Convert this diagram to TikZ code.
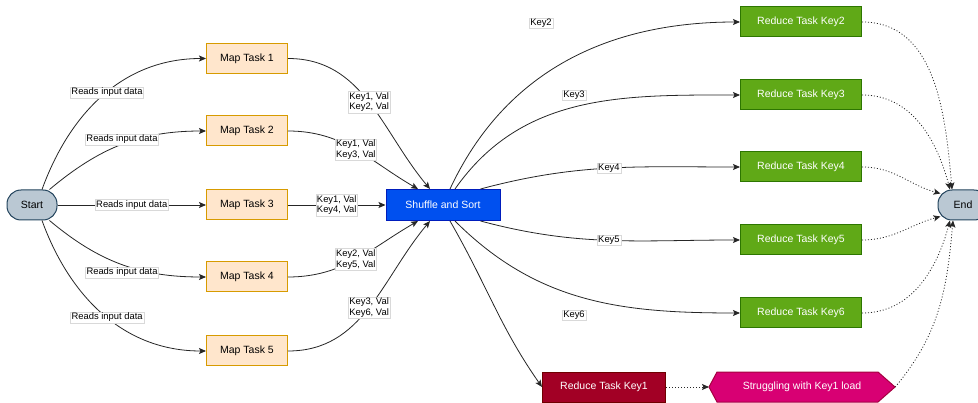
\documentclass[tikz,border=0pt]{standalone}
\usepackage{fontspec}
\setmainfont{Liberation Sans}
\usetikzlibrary{arrows.meta,calc}
\definecolor{termF}{HTML}{BAC8D3}
\definecolor{termD}{HTML}{23445D}
\definecolor{mapF}{HTML}{FFE6CC}
\definecolor{mapD}{HTML}{D79B00}
\definecolor{shufF}{HTML}{0050EF}
\definecolor{shufD}{HTML}{001DBC}
\definecolor{redF}{HTML}{60A917}
\definecolor{redD}{HTML}{2D7600}
\definecolor{rkF}{HTML}{A20025}
\definecolor{rkD}{HTML}{6F0000}
\definecolor{stF}{HTML}{D80073}
\definecolor{stD}{HTML}{A50040}
\begin{document}
\begin{tikzpicture}[x=1pt,y=1pt,
  every node/.style={font=\fontsize{10.5}{12.5}\selectfont},
  term/.style={draw=termD, fill=termF, line width=1pt, rounded corners=14pt, minimum width=50pt, minimum height=30pt},
  maptask/.style={draw=mapD, fill=mapF, line width=1pt, minimum width=81pt, minimum height=30pt},
  shufbox/.style={draw=shufD, fill=shufF, text=white, line width=1pt, minimum width=114pt, minimum height=31pt},
  redbox/.style={draw=redD, fill=redF, text=white, line width=1pt, minimum width=121pt, minimum height=30pt},
  rkbox/.style={draw=rkD, fill=rkF, text=white, line width=1pt, minimum width=123pt, minimum height=30pt},
  lbl/.style={fill=white, draw=black!15, line width=0.3pt, inner sep=1pt, font=\fontsize{9.4}{10.8}\selectfont, align=center},
  edge/.style={draw=black!85, line width=0.8pt, -{Stealth[length=7pt,width=6pt,inset=1.5pt]}},
  dotedge/.style={edge, dash pattern=on 1pt off 2pt}
]
\useasboundingbox (0,0) rectangle (978,402);

% nodes
\node[term] (Start) at (32,197) {Start};
\node[term] (End) at (963,197) {End};
\node[maptask] (M1) at (247,343.5) {Map Task 1};
\node[maptask] (M2) at (247,271) {Map Task 2};
\node[maptask] (M3) at (247,197) {Map Task 3};
\node[maptask] (M4) at (247,125) {Map Task 4};
\node[maptask] (M5) at (247,51) {Map Task 5};
\node[shufbox] (S) at (443,197) {Shuffle and Sort};
\node[redbox] (R2) at (801,380) {Reduce Task Key2};
\node[redbox] (R3) at (801,307) {Reduce Task Key3};
\node[redbox] (R4) at (801,235) {Reduce Task Key4};
\node[redbox] (R5) at (801,162) {Reduce Task Key5};
\node[redbox] (R6) at (801,89) {Reduce Task Key6};
\node[rkbox] (R1) at (604,15) {Reduce Task Key1};
\coordinate (sc) at (802,15);
\filldraw[draw=stD, fill=stF, line width=1pt]
  ([shift={(-93,0)}]sc) -- ([shift={(-85,15)}]sc) -- ([shift={(76,15)}]sc)
  -- ([shift={(93,0)}]sc) -- ([shift={(76,-15)}]sc) -- ([shift={(-85,-15)}]sc) -- cycle;
\node[text=white, minimum width=186pt, minimum height=30pt] (ST) at (sc) {Struggling with Key1 load};

% start -> maps
\draw[edge] ([xshift=10]Start.north) to[out=70,in=180] node[lbl, pos=0.52]{Reads input data} (M1.west);
\draw[edge] ([xshift=-8]Start.north east) to[out=40,in=180] node[lbl, yshift=5]{Reads input data} (M2.west);
\draw[edge] (Start.east) -- node[lbl]{Reads input data} (M3.west);
\draw[edge] ([xshift=-8]Start.south east) to[out=-40,in=180] node[lbl, yshift=-8]{Reads input data} (M4.west);
\draw[edge] ([xshift=10]Start.south) to[out=-70,in=180] node[lbl, pos=0.52]{Reads input data} (M5.west);

% maps -> shuffle
\draw[edge] (M1.east) to[out=0,in=130] node[lbl]{Key1, Val\\Key2, Val} ([xshift=-13]S.north);
\draw[edge] (M2.east) to[out=0,in=150] node[lbl]{Key1, Val\\Key3, Val} ([xshift=-25]S.north);
\draw[edge] (M3.east) -- node[lbl]{Key1, Val\\Key4, Val} (S.west);
\draw[edge] (M4.east) to[out=0,in=210] node[lbl]{Key2, Val\\Key5, Val} ([xshift=-25]S.south);
\draw[edge] (M5.east) to[out=0,in=230] node[lbl]{Key3, Val\\Key6, Val} ([xshift=-13]S.south);

% shuffle -> reducers
\draw[edge] ([xshift=7]S.north) to[out=65,in=180] (R2.west);
\draw[edge] ([xshift=12]S.north) to[out=55,in=180] (R3.west);
\draw[edge] ([xshift=-20]S.north east) to[out=15,in=180] node[lbl]{Key4} (R4.west);
\draw[edge] ([xshift=-20]S.south east) to[out=-15,in=180] node[lbl]{Key5} (R5.west);
\draw[edge] ([xshift=12]S.south) to[out=-45,in=180] (R6.west);
\draw[edge] ([xshift=7]S.south) to[out=-60,in=125] (R1.west);
\node[lbl] (L2) at (541,379) {Key2};
\node[lbl] (L3) at (574,307) {Key3};
\node[lbl] (L6) at (574,87) {Key6};

% to end
\draw[dotedge] (R2.east) to[out=0,in=95] ([xshift=-11]End.north);
\draw[dotedge] (R3.east) to[out=0,in=105] ([xshift=-13]End.north);
\draw[dotedge] (R4.east) to[out=0,in=165] ([xshift=3,yshift=-4]End.north west);
\draw[dotedge] (R5.east) to[out=0,in=195] ([xshift=3,yshift=4]End.south west);
\draw[dotedge] (R6.east) to[out=0,in=255] ([xshift=-13]End.south);
\draw[dotedge] (ST.east) to[out=50,in=265] ([xshift=-10]End.south);
\draw[dotedge] (R1.east) -- ([xshift=-93]ST.center);
\end{tikzpicture}
\end{document}
